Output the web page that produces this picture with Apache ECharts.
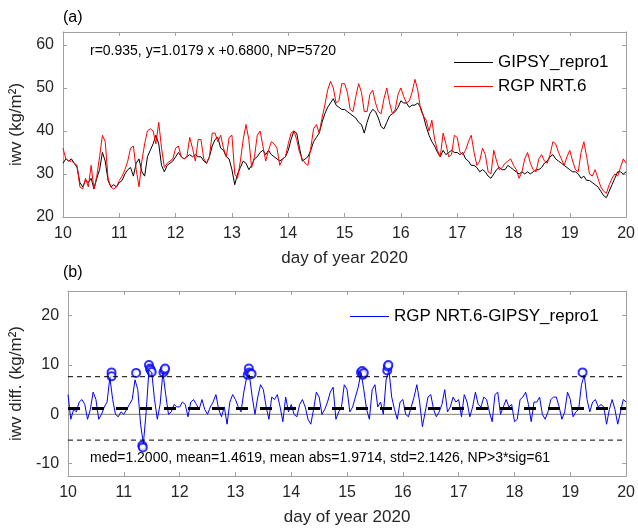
<!DOCTYPE html>
<html>
<head>
<meta charset="utf-8">
<script src="https://cdn.jsdelivr.net/npm/echarts@6/dist/echarts.min.js"></script>
<style>html,body{margin:0;padding:0;background:#fff;}#c{width:638px;height:529px;}</style>
</head>
<body>
<div id="c"></div>
<script>
// Sampling: day of year 10.00 .. 20.00 every 0.05 day
const tStart = 10, tStep = 0.05, nPts = 201;
const days = Array.from({length: nPts}, (_, i) => +(tStart + i * tStep).toFixed(2));

const gipsy = [
32.5,33.5,33.0,33.5,32.5,31.5,28.0,27.0,28.5,28.0,29.0,26.5,29.0,31.0,35.0,33.0,28.5,27.0,27.5,27.0,
28.0,28.5,30.0,31.0,31.5,29.5,32.5,33.5,30.5,29.5,34.0,35.5,37.0,39.0,37.0,32.0,30.5,32.0,32.5,33.0,
34.0,35.0,34.0,33.5,34.0,34.5,34.0,34.5,34.0,34.0,33.0,32.5,34.0,36.5,38.0,38.5,36.0,35.5,34.0,33.5,
31.0,27.5,30.0,31.5,33.0,32.5,31.0,32.0,33.5,34.0,35.0,35.5,34.5,35.5,34.5,34.0,33.5,33.0,33.5,34.0,
35.5,38.0,40.0,39.5,36.0,33.0,33.5,34.0,35.5,37.5,38.5,39.5,42.0,44.0,45.5,46.5,47.5,46.0,45.5,45.0,
45.0,44.5,44.0,43.5,43.0,42.0,41.5,39.5,42.0,44.0,45.0,44.5,43.0,41.0,40.5,42.0,43.5,44.0,44.5,45.5,
47.0,46.5,46.5,45.5,46.0,46.0,46.5,45.5,43.5,41.0,39.0,37.5,36.5,35.0,34.0,35.5,34.5,35.0,35.5,35.0,
35.0,34.5,35.0,33.5,33.0,32.0,32.0,31.5,30.5,31.0,30.5,29.5,29.0,30.0,31.0,31.5,31.0,31.0,32.0,31.5,
31.0,30.5,30.0,30.5,30.0,30.5,30.0,30.5,31.0,31.0,31.5,32.5,33.0,34.0,34.5,33.5,33.0,32.5,32.0,31.5,
31.0,30.5,30.5,30.0,29.0,29.5,28.5,28.5,28.0,27.5,27.0,26.0,25.0,24.5,26.0,27.5,29.0,30.5,30.5,30.0,
30.5];

const rgp = [
36.0,33.5,33.0,33.0,32.5,32.0,27.0,26.5,29.0,27.0,32.0,26.5,29.5,34.0,39.0,37.5,29.0,27.0,26.5,27.0,
28.5,29.5,31.0,33.0,36.0,36.5,31.0,27.0,33.0,37.0,40.0,40.5,40.0,37.0,42.0,36.0,31.5,32.5,33.0,33.5,
36.0,36.5,34.0,33.5,34.0,38.5,36.0,33.0,38.0,38.0,33.5,32.5,34.0,39.5,39.5,37.5,39.0,36.0,34.0,38.5,
39.0,30.0,29.0,33.0,38.0,41.5,38.0,31.5,34.0,39.0,40.0,36.5,33.0,35.5,37.5,37.0,36.0,32.0,33.5,34.0,
37.0,39.5,40.0,38.0,35.0,33.5,32.5,32.0,36.0,40.5,41.5,39.5,43.0,46.0,49.5,51.5,50.0,46.5,47.0,51.0,
51.0,49.0,45.0,44.5,48.0,51.0,49.0,44.5,44.5,48.5,49.5,46.5,44.5,44.0,47.5,50.0,46.5,44.0,45.0,48.5,
50.0,48.0,46.5,47.0,49.0,52.0,49.5,45.0,43.5,42.5,40.0,42.5,38.0,35.5,34.0,39.5,37.0,34.0,34.5,39.0,
38.5,35.0,34.5,35.5,37.5,39.0,35.0,32.0,33.0,36.0,34.5,30.5,30.0,35.5,33.0,31.0,31.5,32.5,33.0,33.5,
32.0,31.0,29.0,30.5,33.5,35.0,32.5,31.0,30.5,33.5,34.5,33.0,32.5,34.5,37.5,37.0,35.0,33.5,32.0,34.0,
35.5,33.0,31.0,30.5,35.0,37.5,34.0,30.0,29.5,31.0,29.0,27.0,26.0,25.5,27.5,29.0,30.0,29.5,31.5,33.5,
32.5];

const diff = [
4.0,-1.0,1.0,0.5,2.5,3.0,2.0,-1.0,1.0,4.5,3.0,-1.0,0.0,1.5,2.5,7.5,3.0,0.0,-0.5,0.5,
0.0,1.0,2.0,3.0,7.0,5.0,-2.0,-6.0,0.5,9.0,8.5,3.0,-1.0,2.0,8.5,4.0,0.0,0.5,2.0,1.5,
1.5,2.5,2.0,-0.5,2.5,3.0,2.0,1.0,3.0,1.0,0.0,1.5,2.5,4.0,1.0,-0.5,1.5,-2.0,2.5,4.0,
3.0,1.5,0.5,4.5,7.5,8.0,3.5,0.0,3.5,6.0,5.0,1.5,-1.0,3.5,3.0,4.0,1.5,-1.5,3.5,0.5,
2.0,0.0,-0.5,2.0,3.0,1.5,-1.0,-2.0,1.0,4.5,3.5,0.0,1.0,2.5,4.5,5.5,-1.0,0.5,1.5,6.0,
5.0,0.5,1.5,3.5,5.5,8.5,5.0,1.0,-1.0,5.0,6.0,1.5,2.5,0.0,7.0,9.0,3.5,1.0,-1.0,2.5,
3.0,0.0,-0.5,1.5,3.5,6.0,2.5,-2.5,0.5,3.5,4.0,1.0,-0.5,0.5,2.0,5.0,0.5,1.5,3.5,2.5,
3.0,-0.5,4.0,2.5,-0.5,1.5,4.5,2.0,1.5,3.5,3.0,0.5,-1.5,4.0,4.5,0.0,1.5,3.0,1.5,2.0,
-1.5,-1.0,3.0,3.5,4.5,2.0,-1.5,2.5,2.5,3.5,0.0,-1.0,0.5,3.0,3.5,3.5,1.5,-1.0,0.5,4.5,
3.0,-0.5,0.5,1.0,6.0,8.0,3.0,0.5,2.5,3.0,1.5,2.0,1.5,-2.0,1.0,3.0,1.0,-2.0,0.5,3.0,
2.5];

// points beyond med +/- 3*std (day, value)
const outlierDays = [10.78,10.78,11.22,11.33,11.34,11.45,11.47,11.48,11.50,11.71,11.73,11.74,13.22,13.24,13.25,13.27,13.29,15.25,15.27,15.28,15.30,15.72,15.73,15.74,19.22];
const outlierVals = [8.5,7.7,8.4,-6.3,-6.7,10.0,9.3,9.0,8.6,8.5,9.0,9.3,8.0,9.3,8.5,8.2,8.2,8.5,8.8,8.0,8.4,8.9,9.7,10.0,8.5];

const med = 1.2, stdv = 2.1426;
const yTicksTop = [20,30,40,50,60];
const yTicksBot = [-10,0,10,20];

const FONT = 'Liberation Sans, Arial, sans-serif';
const AX = '#a0a0a0', TXT = '#262626';
const C_GIPSY = '#000000', C_RGP = '#ff0000', C_DIFF = '#0000ff';

function xAx(grid, pos, showLabel, name) {
  return {
    type: 'value', gridIndex: grid, position: pos, min: 10, max: 20, interval: 1,
    axisLine: {show: true, onZero: false, lineStyle: {color: AX, width: 1}},
    axisTick: {show: true, inside: true, length: 4, lineStyle: {color: AX}},
    axisLabel: {show: showLabel, color: TXT, fontSize: 16, fontFamily: FONT, margin: 9},
    splitLine: {show: false},
    name: name || '', nameLocation: 'middle', nameGap: 33,
    nameTextStyle: {color: TXT, fontSize: 17, fontFamily: FONT}
  };
}
function yAx(grid, pos, min, max, ticks, showLabel, name, gap) {
  return {
    type: 'value', gridIndex: grid, position: pos, min: min, max: max,
    axisLine: {show: true, onZero: false, lineStyle: {color: AX, width: 1}},
    axisTick: {show: true, inside: true, length: 4, customValues: ticks, lineStyle: {color: AX}},
    axisLabel: {show: showLabel, customValues: ticks, color: TXT, fontSize: 16, fontFamily: FONT, margin: 9},
    splitLine: {show: false},
    name: name || '', nameLocation: 'middle', nameGap: gap || 30, nameRotate: 90,
    nameTextStyle: {color: TXT, fontSize: 17, fontFamily: FONT}
  };
}

const hline = (v) => [[10, v], [20, v]];

const option = {
  animation: false,
  backgroundColor: '#fff',
  textStyle: {fontFamily: FONT},
  grid: [
    {left: 63, top: 32, width: 564, height: 185},
    {left: 63, top: 291, width: 564, height: 185}
  ],
  xAxis: [
    xAx(0, 'bottom', true, 'day of year 2020'),
    xAx(0, 'top', false),
    xAx(1, 'bottom', true, 'day of year 2020'),
    xAx(1, 'top', false)
  ],
  yAxis: [
    yAx(0, 'left', 20, 63, yTicksTop, true, 'iwv (kg/m²)', 30),
    yAx(0, 'right', 20, 63, yTicksTop, false),
    yAx(1, 'left', -12.5, 25, yTicksBot, true, 'iwv diff. (kg/m²)', 33),
    yAx(1, 'right', -12.5, 25, yTicksBot, false)
  ],
  legend: [
    {
      data: [
        {name: 'GIPSY_repro1', itemStyle: {color: C_GIPSY}},
        {name: 'RGP NRT.6', itemStyle: {color: C_RGP}}
      ],
      orient: 'vertical', left: 449, top: 48, icon: 'rect',
      itemWidth: 39, itemHeight: 1, itemGap: 5,
      textStyle: {fontSize: 17, color: '#000', fontFamily: FONT, lineHeight: 19}
    }
  ],
  graphic: [
    {type: 'text', left: 63, top: 10, style: {text: '(a)', fontSize: 16, fill: '#000', fontFamily: FONT}},
    {type: 'text', left: 63, top: 265, style: {text: '(b)', fontSize: 16, fill: '#000', fontFamily: FONT}},
    {type: 'text', left: 90, top: 44, style: {text: 'r=0.935, y=1.0179 x +0.6800, NP=5720', fontSize: 14, fill: '#000', fontFamily: FONT}},
    {type: 'text', left: 90, top: 451, style: {text: 'med=1.2000, mean=1.4619, mean abs=1.9714, std=2.1426, NP>3*sig=61', fontSize: 14, fill: '#000', fontFamily: FONT}},
    // legend of panel (b)
    {type: 'line', shape: {x1: 350, y1: 316.5, x2: 389, y2: 316.5}, style: {stroke: C_DIFF, lineWidth: 1}},
    {type: 'text', left: 394, top: 308, style: {text: 'RGP NRT.6-GIPSY_repro1', fontSize: 17, fill: '#000', fontFamily: FONT}}
  ],
  series: [
    {name: 'GIPSY_repro1', type: 'line', xAxisIndex: 0, yAxisIndex: 0, symbol: 'none',
     data: days.map((d, i) => [d, gipsy[i]]), lineStyle: {color: C_GIPSY, width: 1}, itemStyle: {color: C_GIPSY}},
    {name: 'RGP NRT.6', type: 'line', xAxisIndex: 0, yAxisIndex: 0, symbol: 'none',
     data: days.map((d, i) => [d, rgp[i]]), lineStyle: {color: C_RGP, width: 1}, itemStyle: {color: C_RGP}},
    {name: 'zero', type: 'line', xAxisIndex: 2, yAxisIndex: 2, symbol: 'none', silent: true,
     data: hline(0), lineStyle: {color: '#808080', width: 1}},
    {name: 'RGP NRT.6-GIPSY_repro1', type: 'line', xAxisIndex: 2, yAxisIndex: 2, symbol: 'none',
     data: days.map((d, i) => [d, diff[i]]), lineStyle: {color: C_DIFF, width: 1}, itemStyle: {color: C_DIFF}},
    {name: 'outliers', type: 'scatter', xAxisIndex: 2, yAxisIndex: 2, symbol: 'emptyCircle', symbolSize: 8,
     data: outlierDays.map((d, i) => [d, outlierVals[i]]), itemStyle: {color: C_DIFF, borderColor: C_DIFF, borderWidth: 1}},
    {name: 'upper', type: 'line', xAxisIndex: 2, yAxisIndex: 2, symbol: 'none', silent: true,
     data: hline(med + 3 * stdv), lineStyle: {color: '#000', width: 1, type: [5, 4]}},
    {name: 'lower', type: 'line', xAxisIndex: 2, yAxisIndex: 2, symbol: 'none', silent: true,
     data: hline(med - 3 * stdv), lineStyle: {color: '#000', width: 1, type: [5, 4]}},
    {name: 'median', type: 'line', xAxisIndex: 2, yAxisIndex: 2, symbol: 'none', silent: true,
     data: hline(med), lineStyle: {color: '#000', width: 3, type: [12, 12]}}
  ]
};

const chart = echarts.init(document.getElementById('c'), null, {renderer: 'canvas'});
chart.setOption(option);
</script>
</body>
</html>
